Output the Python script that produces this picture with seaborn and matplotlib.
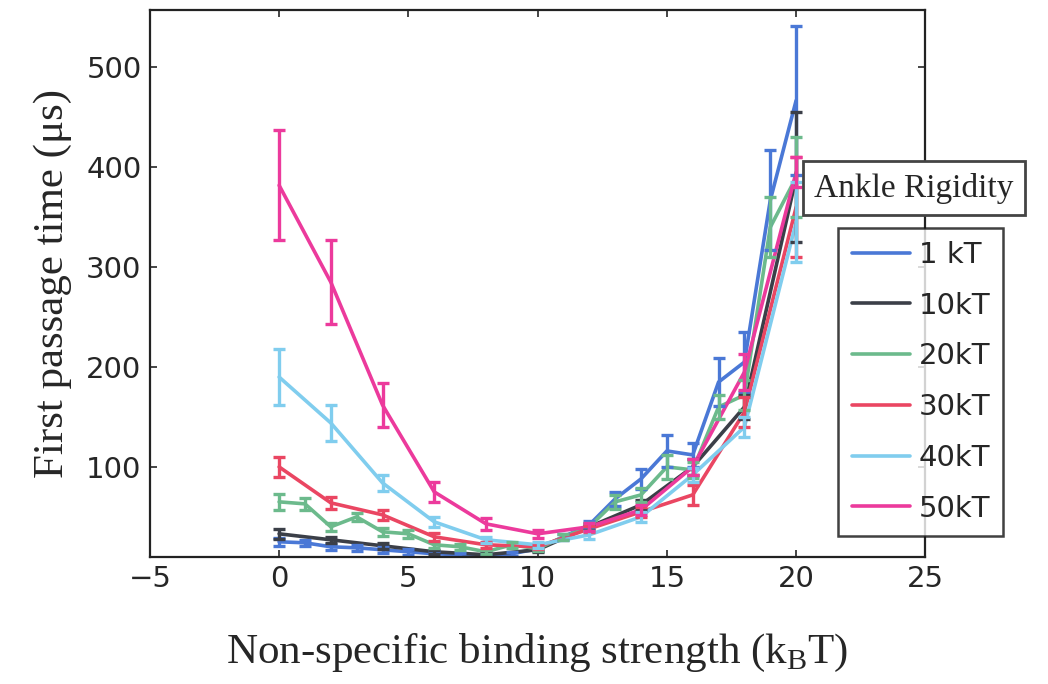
import matplotlib
matplotlib.use("Agg")
import matplotlib.pyplot as plt
import seaborn as sns
import numpy as np
import pandas as pd

# binding strength grids
x_full = list(range(0, 21))
x_even = list(range(0, 21, 2))

# 1 kT (every integer)
y_1kt = [25, 24, 20, 19, 17, 15, 13, 12, 11, 13, 18, 30, 42, 68, 88, 116, 112, 185, 205, 367, 467]
e_1kt = [4, 3, 3, 3, 3, 3, 3, 2, 2, 2, 2, 3, 4, 7, 10, 16, 12, 24, 30, 50, 75]

# 10 kT
y_10kt = [33, 27, 21, 15, 12, 17, 40, 62, 100, 160, 390]
e_10kt = [5, 3, 3, 2, 2, 2, 3, 5, 8, 12, 65]

# 20 kT (every integer)
y_20kt = [65, 63, 40, 50, 35, 33, 22, 20, 15, 22, 18, 30, 40, 65, 72, 100, 97, 160, 172, 340, 390]
e_20kt = [8, 6, 4, 4, 4, 4, 3, 3, 2, 3, 2, 3, 4, 7, 7, 12, 8, 12, 15, 30, 40]

# 30 kT
y_30kt = [100, 64, 52, 30, 22, 20, 38, 55, 72, 155, 360]
e_30kt = [10, 6, 5, 4, 3, 2, 3, 5, 10, 15, 50]

# 40 kT
y_40kt = [190, 144, 84, 45, 27, 22, 32, 50, 92, 140, 345]
e_40kt = [28, 18, 8, 5, 3, 3, 4, 5, 7, 10, 40]

# 50 kT
y_50kt = [382, 285, 162, 75, 43, 33, 40, 57, 100, 195, 395]
e_50kt = [55, 42, 22, 10, 6, 4, 4, 5, 8, 18, 15]

labels = ['1 kT', '10kT', '20kT', '30kT', '40kT', '50kT']
colors = ['#4a78d6', '#3b3f48', '#6cba8c', '#ea4662', '#80cdee', '#ec3a9c']

series = [
    (x_full, y_1kt, e_1kt),
    (x_even, y_10kt, e_10kt),
    (x_full, y_20kt, e_20kt),
    (x_even, y_30kt, e_30kt),
    (x_even, y_40kt, e_40kt),
    (x_even, y_50kt, e_50kt),
]

frames = []
for lab, (xs, ys, es) in zip(labels, series):
    frames.append(pd.DataFrame({'x': xs, 'y': ys, 'err': es, 'rigidity': lab}))
df = pd.concat(frames, ignore_index=True)

sns.set_style("ticks")
plt.rcParams['mathtext.fontset'] = 'custom'
plt.rcParams['mathtext.rm'] = 'Liberation Serif'

fig = plt.figure(figsize=(10.48, 6.84), dpi=100)
ax = fig.add_axes([0.143, 0.186, 0.74, 0.80])

palette = dict(zip(labels, colors))
sns.lineplot(data=df, x='x', y='y', hue='rigidity', palette=palette,
             hue_order=labels, linewidth=2.6, ax=ax, legend=False, sort=False)
for lab in labels:
    sub = df[df['rigidity'] == lab]
    ax.errorbar(sub['x'], sub['y'], yerr=sub['err'], fmt='none',
                ecolor=palette[lab], elinewidth=2.4, capsize=4, capthick=2.4)

ax.set_xlim(-5, 25)
ax.set_ylim(10, 558)
ax.set_xticks([-5, 0, 5, 10, 15, 20, 25])
ax.set_yticks([100, 200, 300, 400, 500])
ax.tick_params(direction='in', top=True, right=True, length=5, width=1.2,
               labelsize=21, pad=6)
for lbl in ax.get_xticklabels() + ax.get_yticklabels():
    lbl.set_family('DejaVu Sans')
for sp in ax.spines.values():
    sp.set_linewidth(1.6)
    sp.set_color('#222222')

ax.set_xlabel('Non-specific binding strength (k$_{\\rm B}$T)', family='Liberation Serif',
              fontsize=31, labelpad=28)
ax.set_ylabel('First passage time (\u03bcs)', family='Liberation Serif',
              fontsize=31, labelpad=10)

# legend with separate title box
handles = [plt.Line2D([], [], color=c, linewidth=2.6) for c in colors]
leg = fig.legend(handles, labels, loc='upper left', bbox_to_anchor=(0.80, 0.667),
                 frameon=True, fancybox=False, edgecolor='#111111',
                 handlelength=2.0, handletextpad=0.3, labelspacing=0.78,
                 borderpad=0.45, borderaxespad=0,
                 prop={'family': 'DejaVu Sans', 'size': 21})
leg.get_frame().set_linewidth(1.8)
fig.text(0.777, 0.725, 'Ankle Rigidity', family='Liberation Serif', fontsize=24,
         ha='left', va='center',
         bbox=dict(boxstyle='square,pad=0.35', facecolor='white',
                   edgecolor='#444444', linewidth=2))

fig.savefig('out.png', dpi=100)
